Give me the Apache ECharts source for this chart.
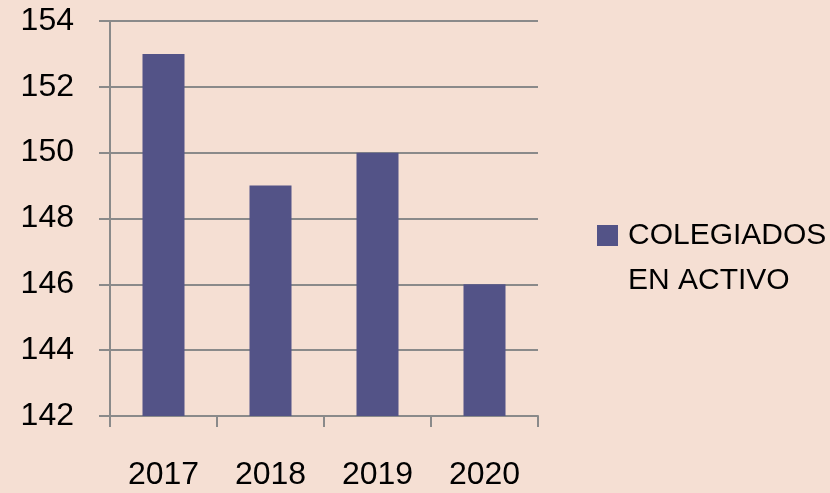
<!DOCTYPE html>
<html>
<head>
<meta charset="utf-8">
<script src="https://cdn.jsdelivr.net/npm/echarts@6/dist/echarts.min.js"></script>
<style>
  html, body { margin: 0; padding: 0; background: #F5DFD3; }
  #chart { width: 830px; height: 493px; }
</style>
</head>
<body>
<div id="chart"></div>
<script>
// datos
const years = ['2017', '2018', '2019', '2020']
const colegiados = [153, 149, 150, 146]
const seriesName = 'COLEGIADOS EN ACTIVO'

const myChart = echarts.init(document.getElementById('chart'))
const gray = '#8a8a8a'
const option = {
  backgroundColor: '#F5DFD3',
  animation: false,
  textStyle: { fontFamily: 'Liberation Sans' },
  grid: { left: 110, right: 292, top: 21, bottom: 77 },
  legend: {
    data: [seriesName],
    left: 597,
    top: 168,
    padding: 0,
    icon: 'rect',
    itemWidth: 21,
    itemHeight: 21,
    // linea vacia arriba para que el cuadrado quede a la altura de la 1a linea
    formatter: () => '\nCOLEGIADOS\nEN ACTIVO',
    textStyle: {
      fontSize: 30,
      color: '#000',
      lineHeight: 45,
      padding: [0, 0, 0, 5],
    },
  },
  xAxis: {
    type: 'category',
    data: years,
    axisLine: { lineStyle: { color: gray, width: 2 } },
    axisTick: { show: true, length: 11, lineStyle: { color: gray, width: 2 } },
    axisLabel: { fontSize: 32, color: '#000', margin: 43 },
  },
  yAxis: {
    type: 'value',
    min: 142,
    max: 154,
    interval: 2,
    axisLine: { show: true, lineStyle: { color: gray, width: 2 } },
    axisTick: { show: true, length: 11, lineStyle: { color: gray, width: 2 } },
    axisLabel: { fontSize: 32, color: '#000', margin: 36 },
    splitLine: { show: true, lineStyle: { color: gray, width: 2 } },
  },
  series: [
    {
      name: seriesName,
      type: 'bar',
      data: colegiados,
      barWidth: 42,
      itemStyle: { color: '#535387' },
    },
  ],
}
myChart.setOption(option, true)
</script>
</body>
</html>
